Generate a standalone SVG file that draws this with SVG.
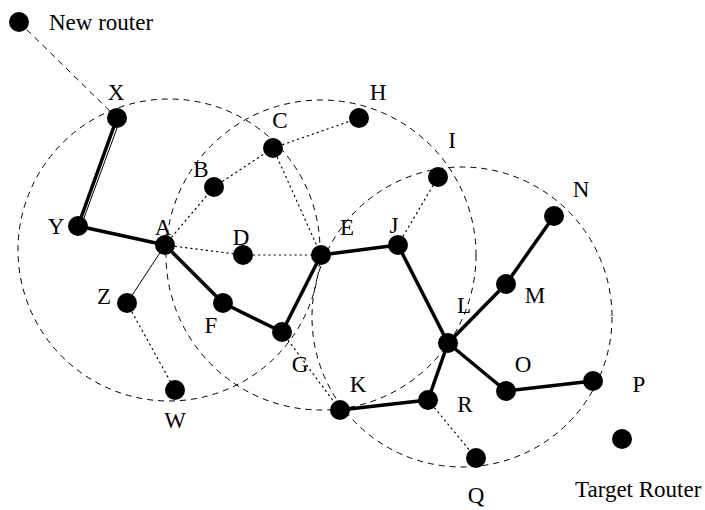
<svg xmlns="http://www.w3.org/2000/svg" width="705" height="510" viewBox="0 0 705 510">
<style>
.bg{fill:#fff}
.range{fill:none;stroke:#000;stroke-width:1;stroke-dasharray:6 5}
.thick{stroke:#000;stroke-width:3.5;stroke-linecap:round}
.thin{stroke:#000;stroke-width:1}
.dot{stroke:#000;stroke-width:1.2;stroke-dasharray:1.2 4;stroke-linecap:round}
.dash{stroke:#000;stroke-width:1;stroke-dasharray:6 5}
.node{fill:#000}
text{font-family:"Liberation Serif","Times New Roman",serif;font-size:23px;fill:#000}
.lbl{text-anchor:middle}
</style>
<rect class="bg" x="0" y="0" width="705" height="510"/>
<g id="ranges">
<circle class="range" cx="169" cy="250" r="151"/>
<circle class="range" cx="321" cy="255" r="155"/>
<circle class="range" cx="462" cy="317" r="150"/>
</g>
<g id="connectors">
<line class="dash" x1="19" y1="22" x2="117" y2="118"/>
<line class="thick" x1="117" y1="118" x2="78" y2="226"/>
<line class="thin" x1="120" y1="120" x2="81" y2="226"/>
<line class="thick" x1="78" y1="226" x2="165" y2="245"/>
<line class="thick" x1="165" y1="245" x2="223" y2="303"/>
<line class="thick" x1="223" y1="303" x2="282" y2="332"/>
<line class="thick" x1="282" y1="332" x2="321" y2="255"/>
<line class="thick" x1="321" y1="255" x2="398" y2="245"/>
<line class="thick" x1="398" y1="245" x2="448" y2="343"/>
<line class="thick" x1="448" y1="343" x2="506" y2="284"/>
<line class="thick" x1="506" y1="284" x2="554" y2="216"/>
<line class="thick" x1="448" y1="343" x2="428" y2="400"/>
<line class="thick" x1="428" y1="400" x2="340" y2="410"/>
<line class="thick" x1="448" y1="343" x2="506" y2="391"/>
<line class="thick" x1="506" y1="391" x2="593" y2="381"/>
<line class="thin" x1="165" y1="245" x2="127" y2="303"/>
<line class="dot" x1="165" y1="245" x2="214" y2="187"/>
<line class="dot" x1="214" y1="187" x2="273" y2="148"/>
<line class="dot" x1="273" y1="148" x2="359" y2="118"/>
<line class="dot" x1="273" y1="148" x2="321" y2="255"/>
<line class="dot" x1="165" y1="245" x2="243" y2="255"/>
<line class="dot" x1="243" y1="255" x2="321" y2="255"/>
<line class="dot" x1="398" y1="245" x2="438" y2="177"/>
<line class="dot" x1="127" y1="303" x2="175" y2="390"/>
<line class="dot" x1="282" y1="332" x2="340" y2="410"/>
<line class="dot" x1="428" y1="400" x2="476" y2="458"/>
</g>
<g id="node-new"><circle class="node" cx="19" cy="22" r="10"/><text x="49" y="30">New router</text></g>
<g id="node-X"><circle class="node" cx="117" cy="118" r="10"/><text class="lbl" x="116" y="100">X</text></g>
<g id="node-Y"><circle class="node" cx="78" cy="226" r="10"/><text class="lbl" x="56" y="234">Y</text></g>
<g id="node-A"><circle class="node" cx="165" cy="245" r="10"/><text class="lbl" x="163" y="235">A</text></g>
<g id="node-B"><circle class="node" cx="214" cy="187" r="10"/><text class="lbl" x="201" y="177">B</text></g>
<g id="node-C"><circle class="node" cx="273" cy="148" r="10"/><text class="lbl" x="280" y="128">C</text></g>
<g id="node-H"><circle class="node" cx="359" cy="118" r="10"/><text class="lbl" x="378" y="100">H</text></g>
<g id="node-D"><circle class="node" cx="243" cy="255" r="10"/><text class="lbl" x="241" y="245">D</text></g>
<g id="node-E"><circle class="node" cx="321" cy="255" r="10"/><text class="lbl" x="347" y="235">E</text></g>
<g id="node-I"><circle class="node" cx="438" cy="177" r="10"/><text class="lbl" x="452" y="148">I</text></g>
<g id="node-J"><circle class="node" cx="398" cy="245" r="10"/><text class="lbl" x="394" y="233">J</text></g>
<g id="node-N"><circle class="node" cx="554" cy="216" r="10"/><text class="lbl" x="581" y="197">N</text></g>
<g id="node-M"><circle class="node" cx="506" cy="284" r="10"/><text class="lbl" x="535" y="303">M</text></g>
<g id="node-L"><circle class="node" cx="448" cy="343" r="10"/><text class="lbl" x="464" y="313">L</text></g>
<g id="node-Z"><circle class="node" cx="127" cy="303" r="10"/><text class="lbl" x="104" y="304">Z</text></g>
<g id="node-F"><circle class="node" cx="223" cy="303" r="10"/><text class="lbl" x="211" y="333">F</text></g>
<g id="node-G"><circle class="node" cx="282" cy="332" r="10"/><text class="lbl" x="300" y="372">G</text></g>
<g id="node-W"><circle class="node" cx="175" cy="390" r="10"/><text class="lbl" x="175" y="428">W</text></g>
<g id="node-K"><circle class="node" cx="340" cy="410" r="10"/><text class="lbl" x="358" y="392">K</text></g>
<g id="node-R"><circle class="node" cx="428" cy="400" r="10"/><text class="lbl" x="465" y="412">R</text></g>
<g id="node-O"><circle class="node" cx="506" cy="391" r="10"/><text class="lbl" x="523" y="372">O</text></g>
<g id="node-P"><circle class="node" cx="593" cy="381" r="10"/><text class="lbl" x="639" y="392">P</text></g>
<g id="node-Q"><circle class="node" cx="476" cy="458" r="10"/><text class="lbl" x="476" y="503">Q</text></g>
<g id="node-target"><circle class="node" cx="622" cy="439" r="10"/><text x="575" y="497">Target Router</text></g>
</svg>
